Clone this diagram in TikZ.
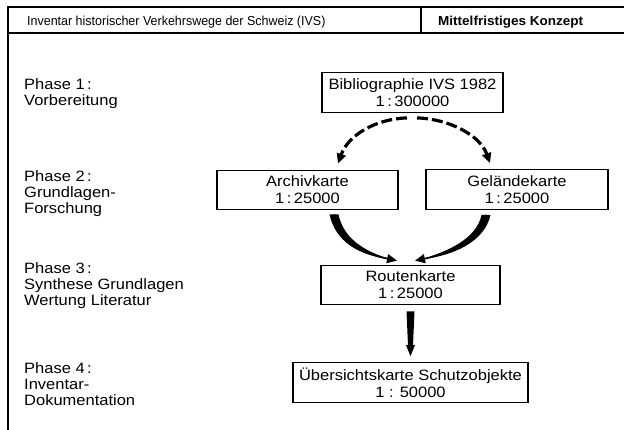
\documentclass[tikz,border=0pt]{standalone}
\usepackage{fontspec}
\setmainfont{Liberation Sans}
\newfontfamily\boxfont[FakeStretch=1.1]{Liberation Sans}
\newfontfamily\headfont[FakeStretch=0.96]{Liberation Sans}
\newfontfamily\headbold[FakeStretch=1.04]{Liberation Sans Bold}
\usetikzlibrary{calc,arrows.meta}
\begin{document}
\begin{tikzpicture}[x=1pt,y=-1pt,
  mapbox/.style={draw,line width=1.3pt,minimum width=#1,minimum height=39.5pt,
    inner sep=0pt,align=center,font=\boxfont\fontsize{15}{17}\selectfont},
  phase/.style={anchor=north west,inner sep=0pt,align=left,
    font=\boxfont\fontsize{15}{16}\selectfont},
  frameline/.style={line width=1.4pt},
  dasharrow/.style={line width=3.2pt,dash pattern=on 11pt off 4pt,
    -{Triangle[length=10pt,width=9pt]}},
  solidarrow/.style={line width=1.6pt,-{Triangle[length=10pt,width=9pt]}}]
\useasboundingbox (0,0) rectangle (624,430);
\fill[white] (0,0) rectangle (624,430);
% frame
\draw[frameline] (8,431) -- (8,7) -- (625,7);
\draw[frameline] (8,33) -- (625,33);
\draw[frameline] (421,7) -- (421,33);
\node[anchor=base west,inner sep=0pt,font=\headfont\fontsize{13}{15}\selectfont] (hd1) at (27,25.5) {Inventar historischer Verkehrswege der Schweiz (IVS)};
\node[anchor=base west,inner sep=0pt,font=\headbold\fontsize{13}{15}\selectfont] (hd2) at (438,25.5) {Mittelfristiges Konzept};
% phases
\node[phase] (p1) at (24,78) {Phase 1\,:\\Vorbereitung};
\node[phase] (p2) at (24,170.5) {Phase 2\,:\\Grundlagen-\\Forschung};
\node[phase] (p3) at (24,262.5) {Phase 3\,:\\Synthese Grundlagen\\Wertung Literatur};
\node[phase] (p4) at (24,362.5) {Phase 4\,:\\Inventar-\\Dokumentation};
% boxes
\node[mapbox=181pt] (bib) at (412.5,92.5) {Bibliographie IVS 1982\\1\,:\,300000};
\node[mapbox=181pt] (arch) at (307.5,190) {Archivkarte\\1\,:\,25000};
\node[mapbox=182pt] (gel) at (517,189.5) {Geländekarte\\1\,:\,25000};
\node[mapbox=179pt] (rout) at (410.5,285) {Routenkarte\\1\,:\,25000};
\node[mapbox=235pt] (ueb) at (410.5,382.5) {Übersichtskarte Schutzobjekte\\1 : 50000};
% dashed arcs
\coordinate (dl0) at ($(bib.south)+(-5.5,5)$);
\coordinate (dl1) at ($(arch.north)+(30.5,-6)$);
\coordinate (dr0) at ($(bib.south)+(4.5,5)$);
\coordinate (dr1) at ($(gel.north)+(-27,-6)$);
\draw[dasharrow] (dl0) .. controls +(-32,1) and +(10,-28) .. (dl1);
\draw[dasharrow] (dr0) .. controls +(32,1) and +(-10,-28) .. (dr1);
% solid tapered arcs
\coordinate (la) at ($(arch.south)+(26.5,4)$);
\coordinate (le) at ($(rout.north)+(-13.5,-4)$);
\coordinate (ra) at ($(gel.south)+(-31,5)$);
\coordinate (re) at ($(rout.north)+(4.5,-4)$);
\draw[solidarrow] (la) .. controls +(6,24) and +(-35,-7) .. (le);
\fill ($(la)+(-4.5,0)$) .. controls +(6,27) and +(-34,-4) .. ($(le)+(-5,-1)$)
  .. controls +(-28,-8) and +(5,24) .. ($(la)+(4.5,0)$) -- cycle;
\draw[solidarrow] (ra) .. controls +(-6,24) and +(35,-7) .. (re);
\fill ($(ra)+(4.5,0)$) .. controls +(-6,27) and +(34,-4) .. ($(re)+(5,-1)$)
  .. controls +(28,-8) and +(-5,24) .. ($(ra)+(-4.5,0)$) -- cycle;
% down arrow
\coordinate (dt) at ($(rout.south)+(0,6)$);
\coordinate (db) at ($(ueb.north)+(0,-6)$);
\fill ($(dt)+(-4,0)$) -- ($(dt)+(4,0)$) -- ($(db)+(2.5,-11)$) -- ($(db)+(4.5,-11)$)
  -- (db) -- ($(db)+(-4.5,-11)$) -- ($(db)+(-2.5,-11)$) -- cycle;
\end{tikzpicture}
\end{document}
